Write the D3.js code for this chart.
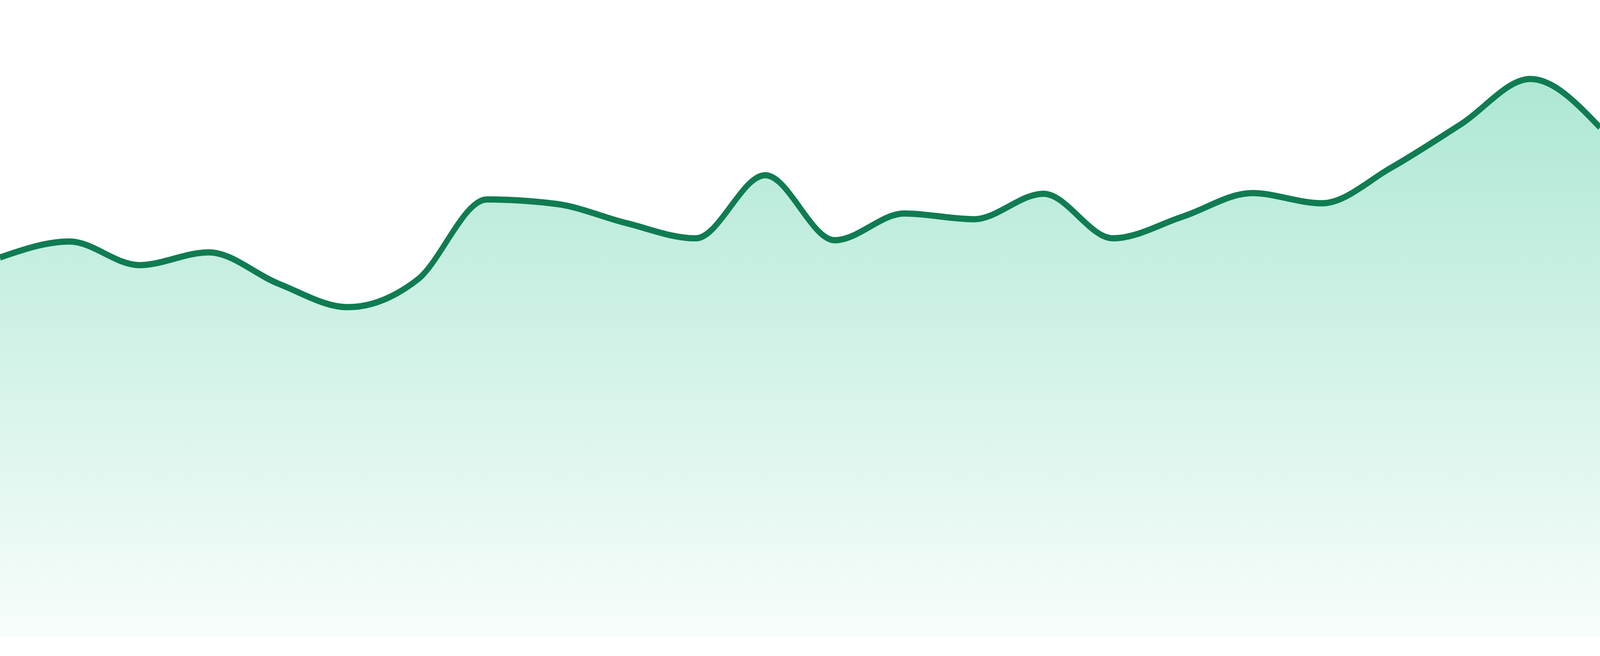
<!DOCTYPE html>
<html lang="en">
<head>
    <meta charset="UTF-8">
    <title>Area sparkline</title>
    <script src="https://d3js.org/d3.v7.min.js"></script>
    <style>
        html, body{
            margin: 0;
            padding: 0;
            overflow: hidden;
            background: #fff;
        }
        svg{
            display: block;
            width: 100vw;
            height: 100vh;
        }
    </style>
</head>
<body>
    <script>
        // values, one per step (24 steps)
        const steps = ["1","2","3","4","5","6","7","8","9","10","11","12",
                       "13","14","15","16","17","18","19","20","21","22","23","24"]
        const values = [59.6, 62.1, 58.4, 60.4, 55.5, 51.8, 56.1, 68.7,
                        68.0, 65.0, 62.6, 72.5, 62.3, 66.5, 65.6, 69.6,
                        62.6, 66.0, 69.7, 68.1, 73.7, 80.5, 87.6, 80.0]
        const yDomain = [0, 100]

        const svgSize = {width:4800, height:1680}
        const margin = {top:0, left:0, bottom:48, right:0}

        const data = steps.map((s,i)=> ({step:s, value:values[i]}))

        // drawing is done in a 4800x1680 box and stretched to the window
        const svg = d3.select("body").append("svg")
                        .attr("viewBox", [0, 0, svgSize.width, svgSize.height])
                        .attr("preserveAspectRatio", "none")

        const xScale = d3.scalePoint()
                            .domain(steps)
                            .range([margin.left, svgSize.width - margin.right])

        const yScale = d3.scaleLinear()
                            .domain(yDomain)
                            .range([svgSize.height - margin.bottom, margin.top])

        // soft green fill that fades out towards the bottom
        const grad = svg.append("defs").append("linearGradient")
                        .attr("id", "fade")
                        .attr("x1", 0).attr("x2", 0)
                        .attr("y1", 0).attr("y2", 1)
        grad.append("stop").attr("offset", "0%").attr("stop-color", "#10b981").attr("stop-opacity", 0.34)
        grad.append("stop").attr("offset", "100%").attr("stop-color", "#10b981").attr("stop-opacity", 0.03)

        const area = d3.area()
                        .curve(d3.curveMonotoneX)
                        .x(d=> xScale(d.step))
                        .y0(yScale(yDomain[0]))
                        .y1(d=> yScale(d.value))

        const line = d3.line()
                        .curve(d3.curveMonotoneX)
                        .x(d=> xScale(d.step))
                        .y(d=> yScale(d.value))

        svg.append("path")
            .attr("d", area(data))
            .attr("fill", "url(#fade)")

        svg.append("path")
            .attr("d", line(data))
            .attr("fill", "none")
            .attr("stroke", "#107c52")
            .attr("stroke-width", 16)
    </script>
</body>
</html>
